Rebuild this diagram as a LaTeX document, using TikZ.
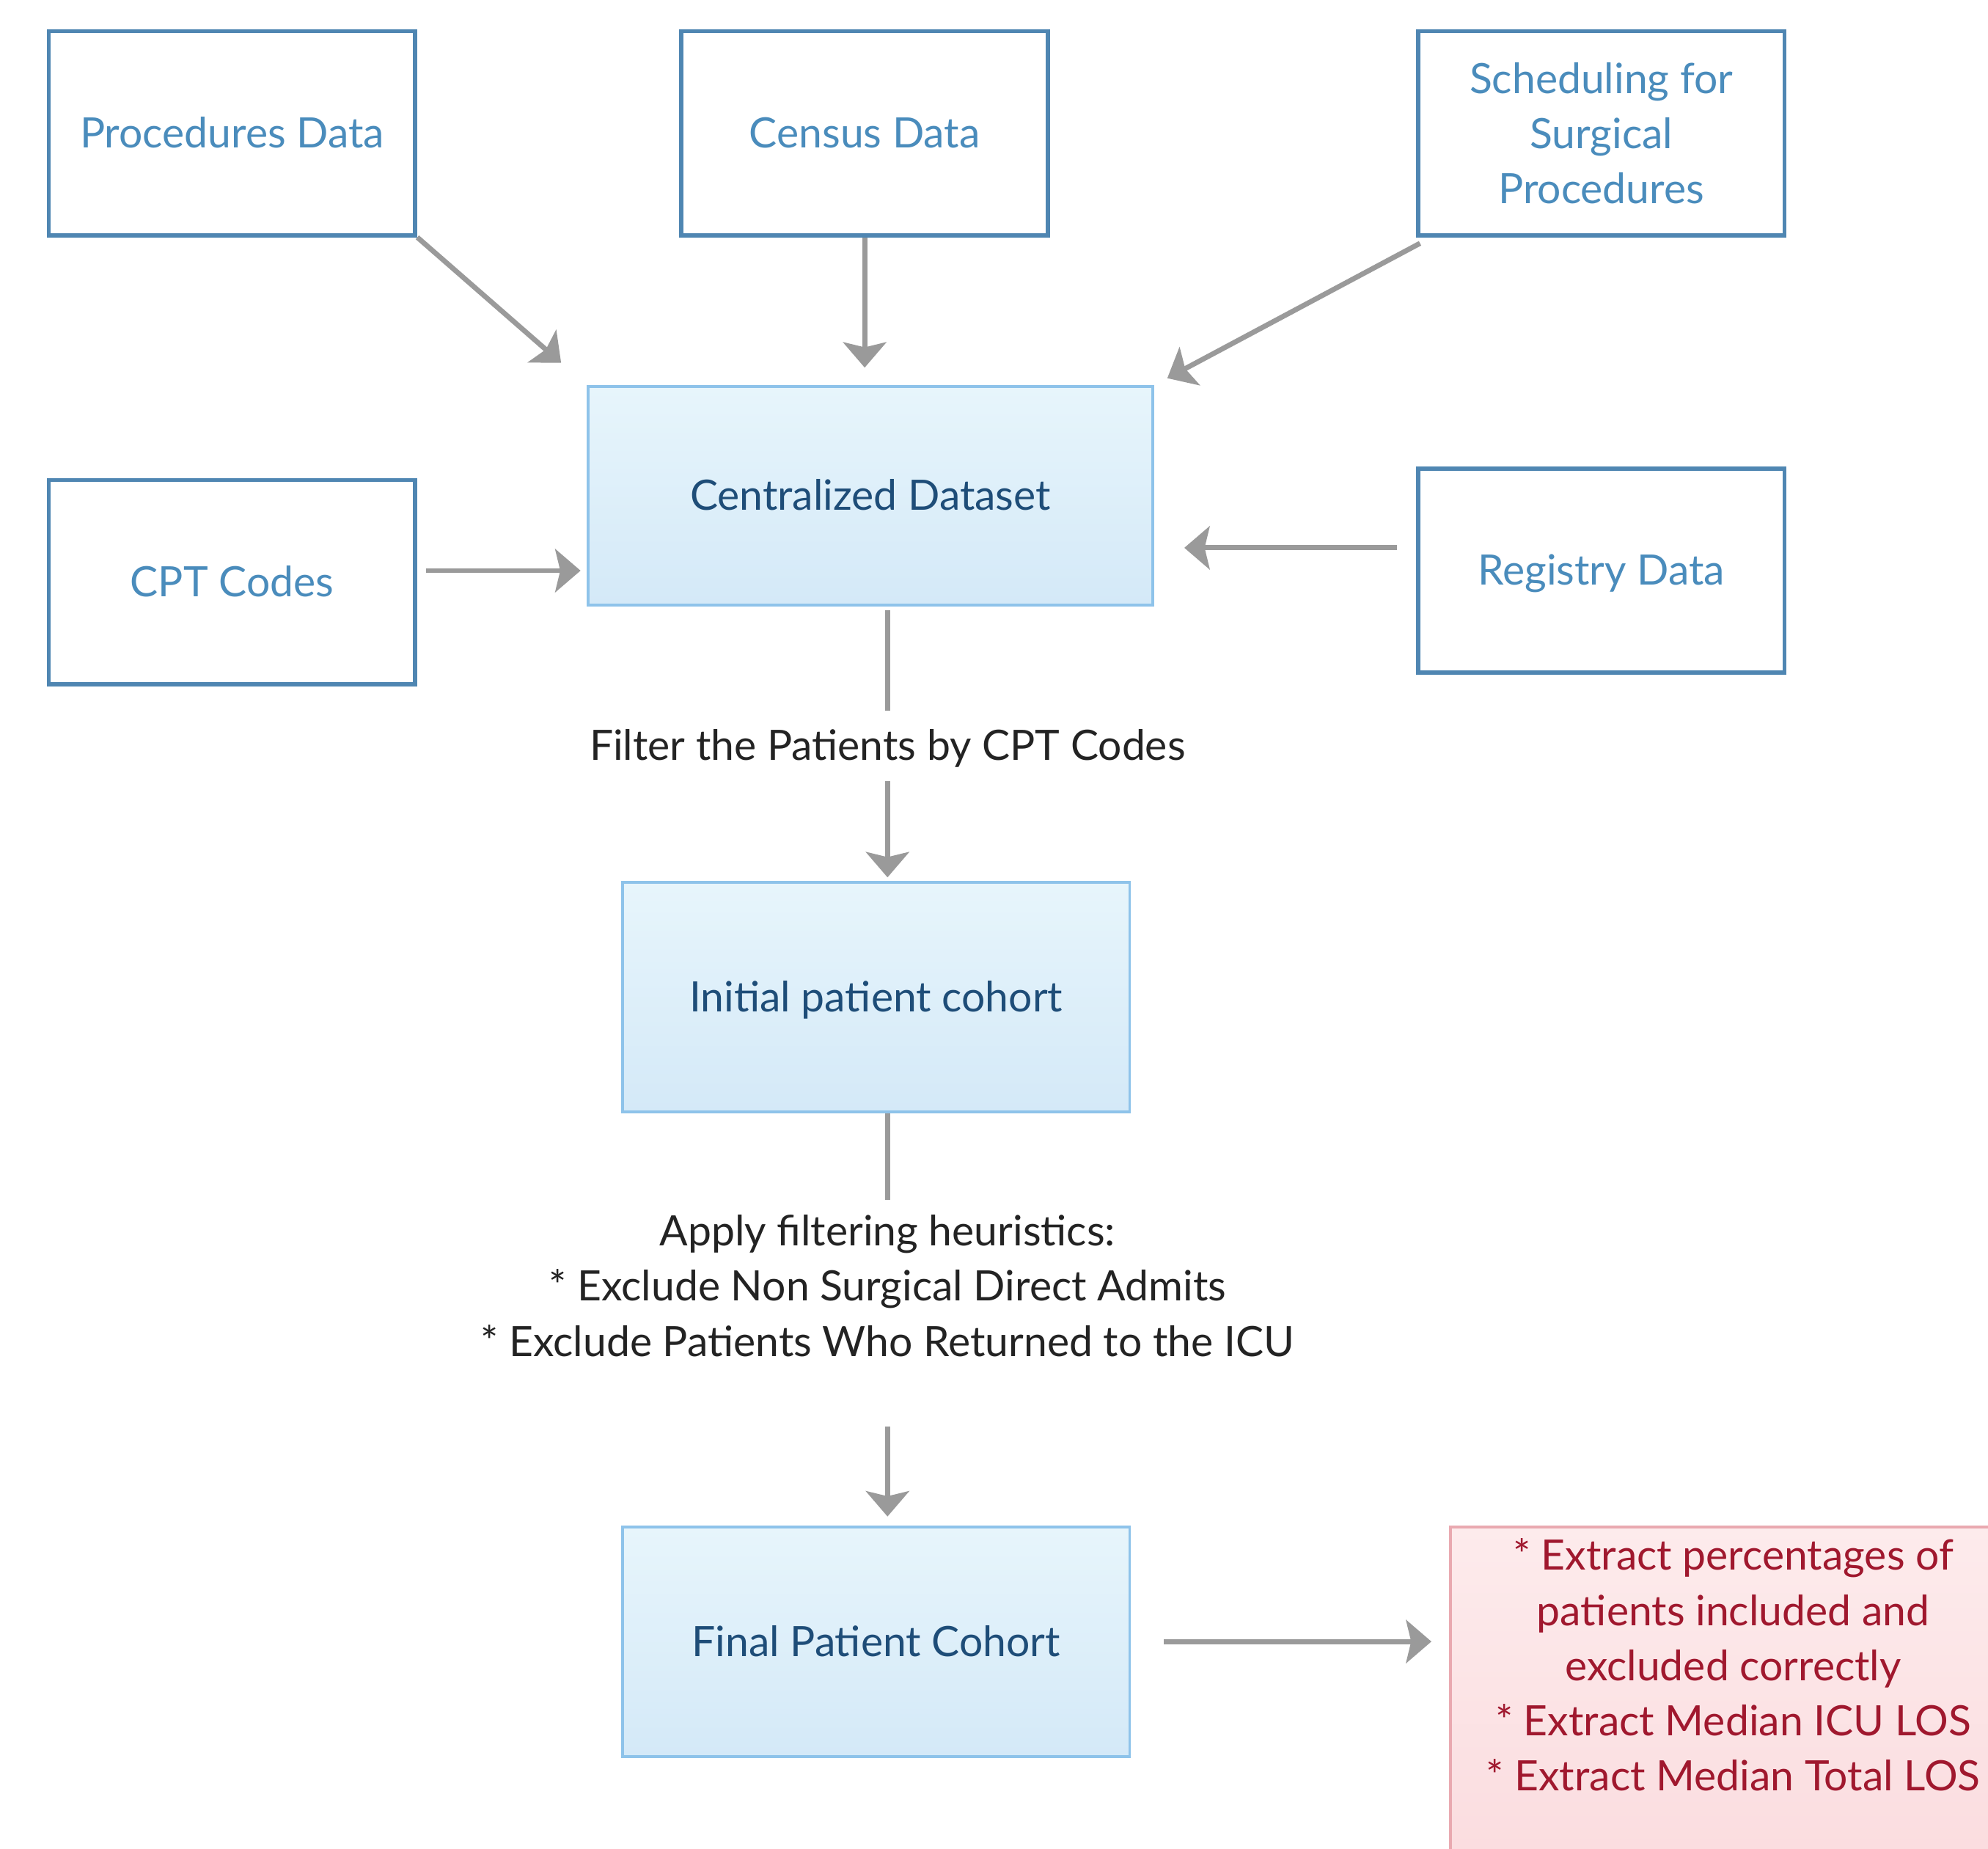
\documentclass[tikz,border=0pt]{standalone}
\usepackage{fontspec}
\setmainfont{Lato}
\usetikzlibrary{arrows.meta}
\definecolor{srcborder}{HTML}{4F86B2}
\definecolor{srctext}{HTML}{4A8CBC}
\definecolor{cenborder}{HTML}{8EC3EA}
\definecolor{centext}{HTML}{1E4D78}
\definecolor{centop}{HTML}{E7F5FB}
\definecolor{cenbot}{HTML}{D4E9F8}
\definecolor{arrgray}{HTML}{9A9A9A}
\definecolor{redtop}{HTML}{FDEBEC}
\definecolor{redbot}{HTML}{FADADD}
\definecolor{redborder}{HTML}{E9A9B0}
\definecolor{redtext}{HTML}{A0182E}
\definecolor{labtext}{HTML}{232323}
\tikzset{
  txtfont/.style={font=\fontsize{33}{43.5}\selectfont},
  srcbox/.style={draw=srcborder, line width=3.3pt, fill=white, minimum width=289pt,
    minimum height=161pt, inner sep=0pt, text=srctext, txtfont, align=center},
  onel/.style={text height=23pt, text depth=0pt},
  cenbox/.style={draw=cenborder, line width=2.2pt, top color=centop, bottom color=cenbot,
    inner sep=0pt, text=centext, txtfont, onel},
  redbox/.style={draw=redborder, line width=2.2pt, top color=redtop, bottom color=redbot,
    inner sep=0pt},
  redlab/.style={text=redtext, txtfont, align=center, inner sep=0pt},
  lab/.style={text=labtext, txtfont, align=center, inner sep=0pt},
  ln/.style={draw=arrgray, line width=4pt},
  arr/.style={draw=arrgray, line width=4pt, -{Stealth[length=20pt,width=34pt,inset=4pt]}},
}
\begin{document}
\begin{tikzpicture}[x=1pt,y=-1pt]
\useasboundingbox (0,0) rectangle (1568,1458);

% source boxes
\node[srcbox, onel] (proc) at (183,105) {Procedures Data};
\node[srcbox, onel] (census) at (682,105) {Census Data};
\node[srcbox] (sched) at (1263,105) {Scheduling for\\Surgical\\Procedures};
\node[srcbox, onel] (cpt) at (183,459) {CPT Codes};
\node[srcbox, onel] (reg) at (1263,450) {Registry Data};

% central boxes
\node[cenbox, minimum width=445pt, minimum height=172pt] (cent) at (686.5,391) {Centralized Dataset};
\node[cenbox, minimum width=400pt, minimum height=181pt] (init) at (691,786.5) {Initial patient cohort};
\node[cenbox, minimum width=400pt, minimum height=181pt] (final) at (691,1294.5) {Final Patient Cohort};

% output box
\node[redbox, anchor=north west, minimum width=470pt, minimum height=310pt] (red) at (1143,1203) {};
\node[redlab] (redtxt) at (1367,1313) {* Extract percentages of\\patients included and\\excluded correctly\\* Extract Median ICU LOS\\* Extract Median Total LOS};

% labels
\node[lab, text height=24pt, text depth=8pt] (filter) at (700,591.5) {Filter the Patients by CPT Codes};
\node[lab] (heur) at (700,1014) {Apply filtering heuristics:\\* Exclude Non Surgical Direct Admits\\* Exclude Patients Who Returned to the ICU};

% connectors
\draw[arr, shorten >=27pt] (proc.south east) -- (cent.north west);
\draw[arr, shorten >=14pt] (census.south) -- (census.south |- cent.north);
\draw[arr, shorten <=10pt, shorten >=12pt] ([xshift=12pt]sched.south west) -- (cent.north east);
\draw[arr, shorten <=7pt, shorten >=5pt] ([yshift=9pt]cpt.east) -- ([yshift=9pt]cpt.east -| cent.west);
\draw[arr, shorten <=15pt, shorten >=24pt] ([yshift=18pt]reg.west) -- ([yshift=18pt]reg.west -| cent.east);
\draw[ln, shorten <=3pt, shorten >=15pt] (cent.south -| filter.north) -- (filter.north);
\draw[arr, shorten <=8.5pt, shorten >=3pt] (filter.south) -- (filter.south |- init.north);
\draw[ln, shorten >=12pt] (init.south -| heur.north) -- (heur.north);
\draw[arr, shorten <=55pt, shorten >=7pt] (heur.south) -- (heur.south |- final.north);
\draw[arr, shorten <=26pt, shorten >=14pt] (final.east) -- (final.east -| red.west);
\end{tikzpicture}
\end{document}
